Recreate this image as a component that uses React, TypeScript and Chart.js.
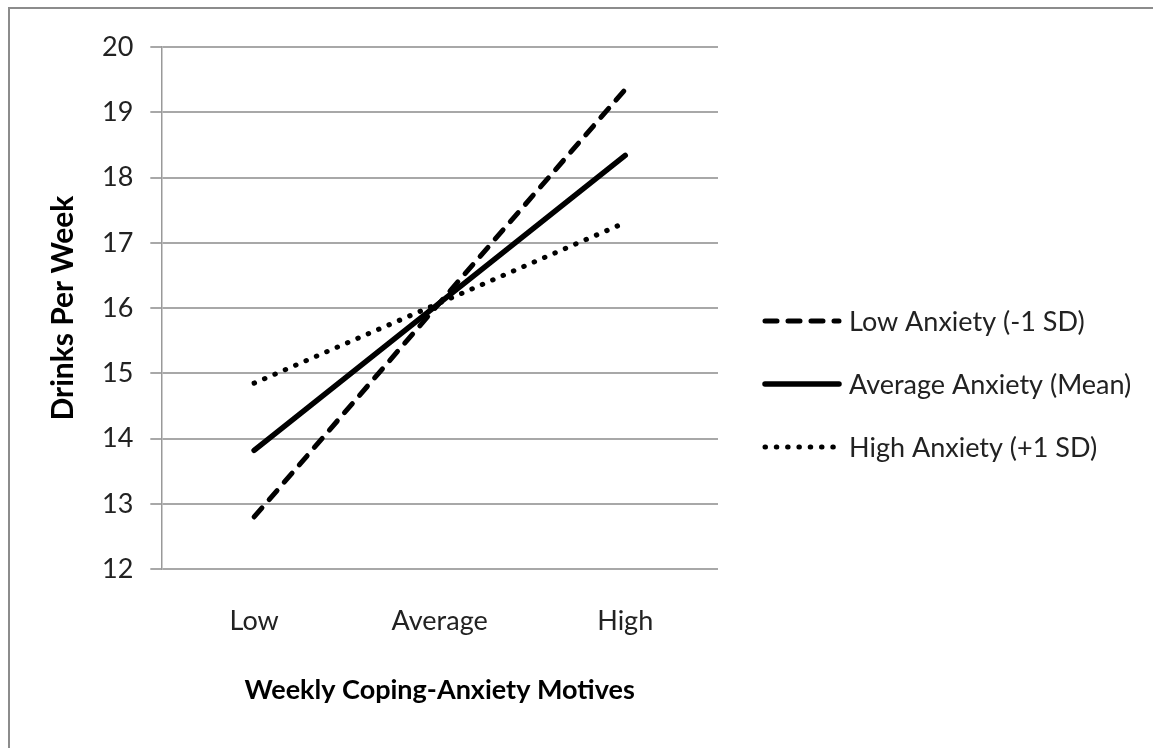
import React, { useEffect, useRef } from 'react';
import { Chart, registerables } from 'chart.js';

Chart.register(...registerables);

const categories = ['Low', 'Average', 'High'];
const lowAnxiety = [12.8, 16.08, 19.35];
const averageAnxiety = [13.82, 16.08, 18.34];
const highAnxiety = [14.85, 16.08, 17.31];
const seriesLabels = ['Low Anxiety (-1 SD)', 'Average Anxiety (Mean)', 'High Anxiety (+1 SD)'];
const yMin = 12;
const yMax = 20;
const yStep = 1;
const xAxisTitle = 'Weekly Coping-Anxiety Motives';
const yAxisTitle = 'Drinks Per Week';

const FONT = 'Lato, "Open Sans", "DejaVu Sans", sans-serif';

// Custom legend drawn to the right of the plot area
const LEGEND_GAP = 45; // gap between plot right edge and legend line start
const LEGEND_LINE_W = 78;
const LEGEND_TEXT_GAP = 8;
const LEGEND_FIRST_Y = 321;
const LEGEND_ROW_H = 63;

const legendPlugin = {
  id: 'sideLegend',
  afterDraw(chart: any) {
    const { ctx, chartArea } = chart;
    const x0 = chartArea.right + LEGEND_GAP;
    ctx.save();
    chart.data.datasets.forEach((ds: any, i: number) => {
      const y = LEGEND_FIRST_Y + i * LEGEND_ROW_H;
      ctx.beginPath();
      ctx.setLineDash(ds.borderDash || []);
      ctx.lineCap = 'round';
      ctx.lineWidth = ds.borderWidth;
      ctx.strokeStyle = ds.borderColor;
      ctx.moveTo(x0 + 2, y);
      ctx.lineTo(x0 + LEGEND_LINE_W - 2, y);
      ctx.stroke();
      ctx.setLineDash([]);
      ctx.fillStyle = '#222';
      ctx.font = `27px ${FONT}`;
      ctx.textAlign = 'left';
      ctx.textBaseline = 'middle';
      ctx.fillText(ds.label, x0 + LEGEND_LINE_W + LEGEND_TEXT_GAP, y + 1);
    });
    ctx.restore();
  },
};

export default function App() {
  const ref = useRef<HTMLCanvasElement | null>(null);

  useEffect(() => {
    if (!ref.current) return;
    const common = {
      borderColor: '#000',
      pointRadius: 0,
      pointHoverRadius: 0,
      fill: false,
      tension: 0,
      borderCapStyle: 'round' as const,
      borderJoinStyle: 'round' as const,
    };
    const chart = new Chart(ref.current, {
      type: 'line',
      data: {
        labels: categories,
        datasets: [
          { ...common, label: seriesLabels[0], data: lowAnxiety, borderWidth: 5, borderDash: [12, 11] },
          { ...common, label: seriesLabels[1], data: averageAnxiety, borderWidth: 5.5, borderDash: [] },
          { ...common, label: seriesLabels[2], data: highAnxiety, borderWidth: 5, borderDash: [0.5, 10.8] },
        ],
      },
      options: {
        responsive: false,
        animation: false,
        events: [],
        layout: { padding: { left: 45, top: 47, right: 435, bottom: 42 } },
        plugins: {
          tooltip: { enabled: false },
          title: { display: false },
          legend: { display: false },
        },
        scales: {
          x: {
            type: 'category',
            offset: true,
            grid: { display: false, drawTicks: false },
            border: { display: false },
            ticks: { color: '#222', padding: 36, maxRotation: 0, font: { family: FONT, size: 27 } },
            title: {
              display: true,
              text: xAxisTitle,
              color: '#000',
              font: { family: FONT, size: 27, weight: 'bold' },
              padding: { top: 0, bottom: 0 },
            },
          },
          y: {
            min: yMin,
            max: yMax,
            grid: { color: '#a8a8a8', lineWidth: 2, tickLength: 11, drawTicks: true },
            border: { display: true, color: '#999', width: 1.5 },
            ticks: { stepSize: yStep, color: '#222', padding: 17, font: { family: FONT, size: 27 } },
            title: {
              display: true,
              text: yAxisTitle,
              color: '#000',
              font: { family: FONT, size: 30, weight: 'bold' },
              padding: { top: 0, bottom: 4 },
            },
          },
        },
      },
      plugins: [legendPlugin],
    });
    return () => chart.destroy();
  }, []);

  return (
    <div style={{ position: 'fixed', left: 0, top: 0, width: 1153, height: 748, background: '#fff', overflow: 'hidden' }}>
      <div
        style={{
          position: 'absolute',
          left: 8,
          top: 7,
          width: 1153,
          height: 748,
          borderTop: '2px solid #8c8c8c',
          borderLeft: '2px solid #8c8c8c',
        }}
      />
      <canvas ref={ref} width={1153} height={748} style={{ position: 'absolute', left: 0, top: 0 }} />
    </div>
  );
}
